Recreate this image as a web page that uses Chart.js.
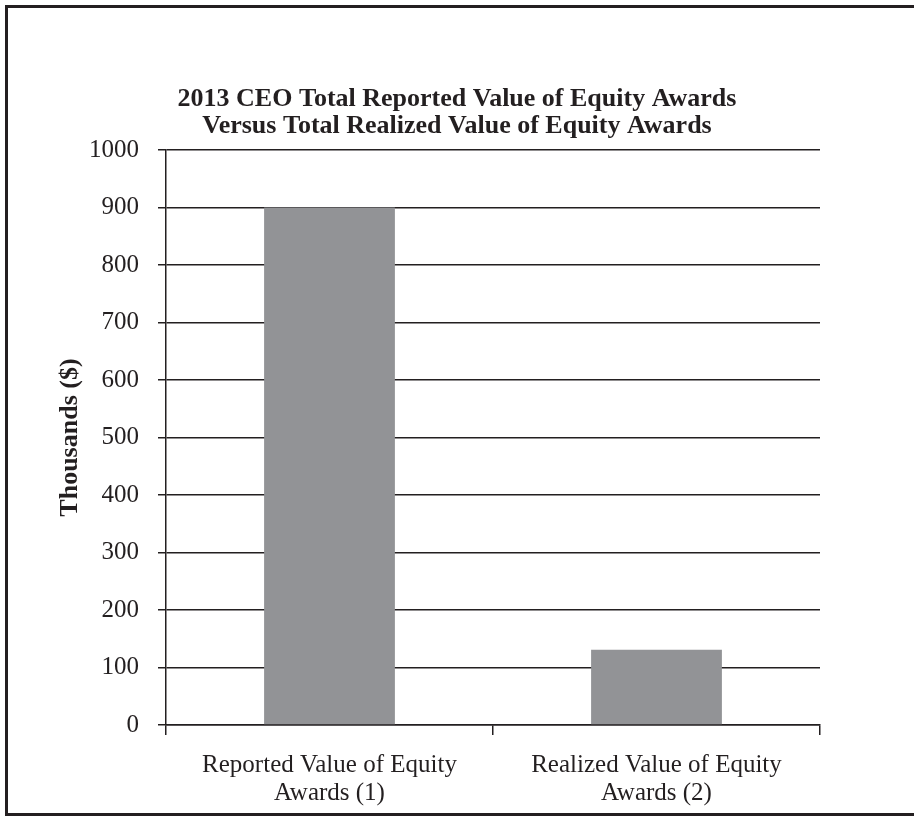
<!DOCTYPE html>
<html>
<head>
<meta charset="utf-8">
<script src="https://cdn.jsdelivr.net/npm/chart.js@4"></script>
<style>
  html, body { margin: 0; padding: 0; background: #fff; overflow: hidden; }
  #frame {
    position: absolute; left: 5px; top: 5px; width: 930px; height: 811px;
    border: 3px solid #231f20; box-sizing: border-box;
  }
  #wrap { position: absolute; left: 0; top: 0; width: 914px; height: 816px; }
</style>
</head>
<body>
<div id="frame"></div>
<div id="wrap"><canvas id="chart"></canvas></div>
<script>
// Chart data
const categories = [
    ['Reported Value of Equity', 'Awards (1)'],
    ['Realized Value of Equity', 'Awards (2)']
];
const equityValues = [900, 131];
const yTickValues = [0, 100, 200, 300, 400, 500, 600, 700, 800, 900, 1000];
const titleLines = [
    '2013 CEO Total Reported Value of Equity Awards',
    'Versus Total Realized Value of Equity Awards'
];
const yTitle = 'Thousands ($)';

const ink = '#231f20';
const serif = "'Liberation Serif', 'Times New Roman', serif";

new Chart(document.getElementById('chart'), {
    type: 'bar',
    data: {
        labels: categories,
        datasets: [{
            data: equityValues,
            backgroundColor: '#929396',
            barPercentage: 0.4,
            categoryPercentage: 1
        }]
    },
    options: {
        responsive: true,
        maintainAspectRatio: false,
        animation: false,
        layout: { padding: { left: 40, right: 40, top: 0, bottom: 0 } },
        plugins: {
            legend: { display: false },
            tooltip: { enabled: false },
            title: {
                display: true,
                text: titleLines,
                color: ink,
                font: { family: serif, size: 26, weight: 'bold', lineHeight: 1.04 },
                padding: { top: 86, bottom: 10 }
            }
        },
        scales: {
            x: {
                grid: { drawOnChartArea: false, drawTicks: true, tickLength: 10, color: ink, lineWidth: 1.5, offset: true },
                border: { display: true, color: ink, width: 1.5 },
                ticks: { color: ink, font: { family: serif, size: 25, lineHeight: 1.12 }, padding: 16, maxRotation: 0 },
                afterFit: (scale) => { scale.height = 91; }
            },
            y: {
                min: yTickValues[0],
                max: yTickValues[yTickValues.length - 1],
                afterBuildTicks: (scale) => { scale.ticks = yTickValues.map(v => ({ value: v })); },
                grid: { color: ink, lineWidth: 1.5, tickLength: 8 },
                border: { display: true, color: ink, width: 1.5 },
                ticks: { color: ink, font: { family: serif, size: 25 }, padding: 19, callback: (v) => String(v) },
                title: {
                    display: true,
                    text: yTitle,
                    color: ink,
                    font: { family: serif, size: 26, weight: 'bold' },
                    padding: { top: 15, bottom: 0 }
                },
                afterFit: (scale) => { scale.width = 126; }
            },
            // empty right axis, keeps the plot area off-centre like the original
            spacer: {
                type: 'linear',
                position: 'right',
                grid: { display: false },
                border: { display: false },
                ticks: { display: false },
                afterFit: (scale) => { scale.width = 54; }
            }
        }
    }
});
</script>
</body>
</html>
